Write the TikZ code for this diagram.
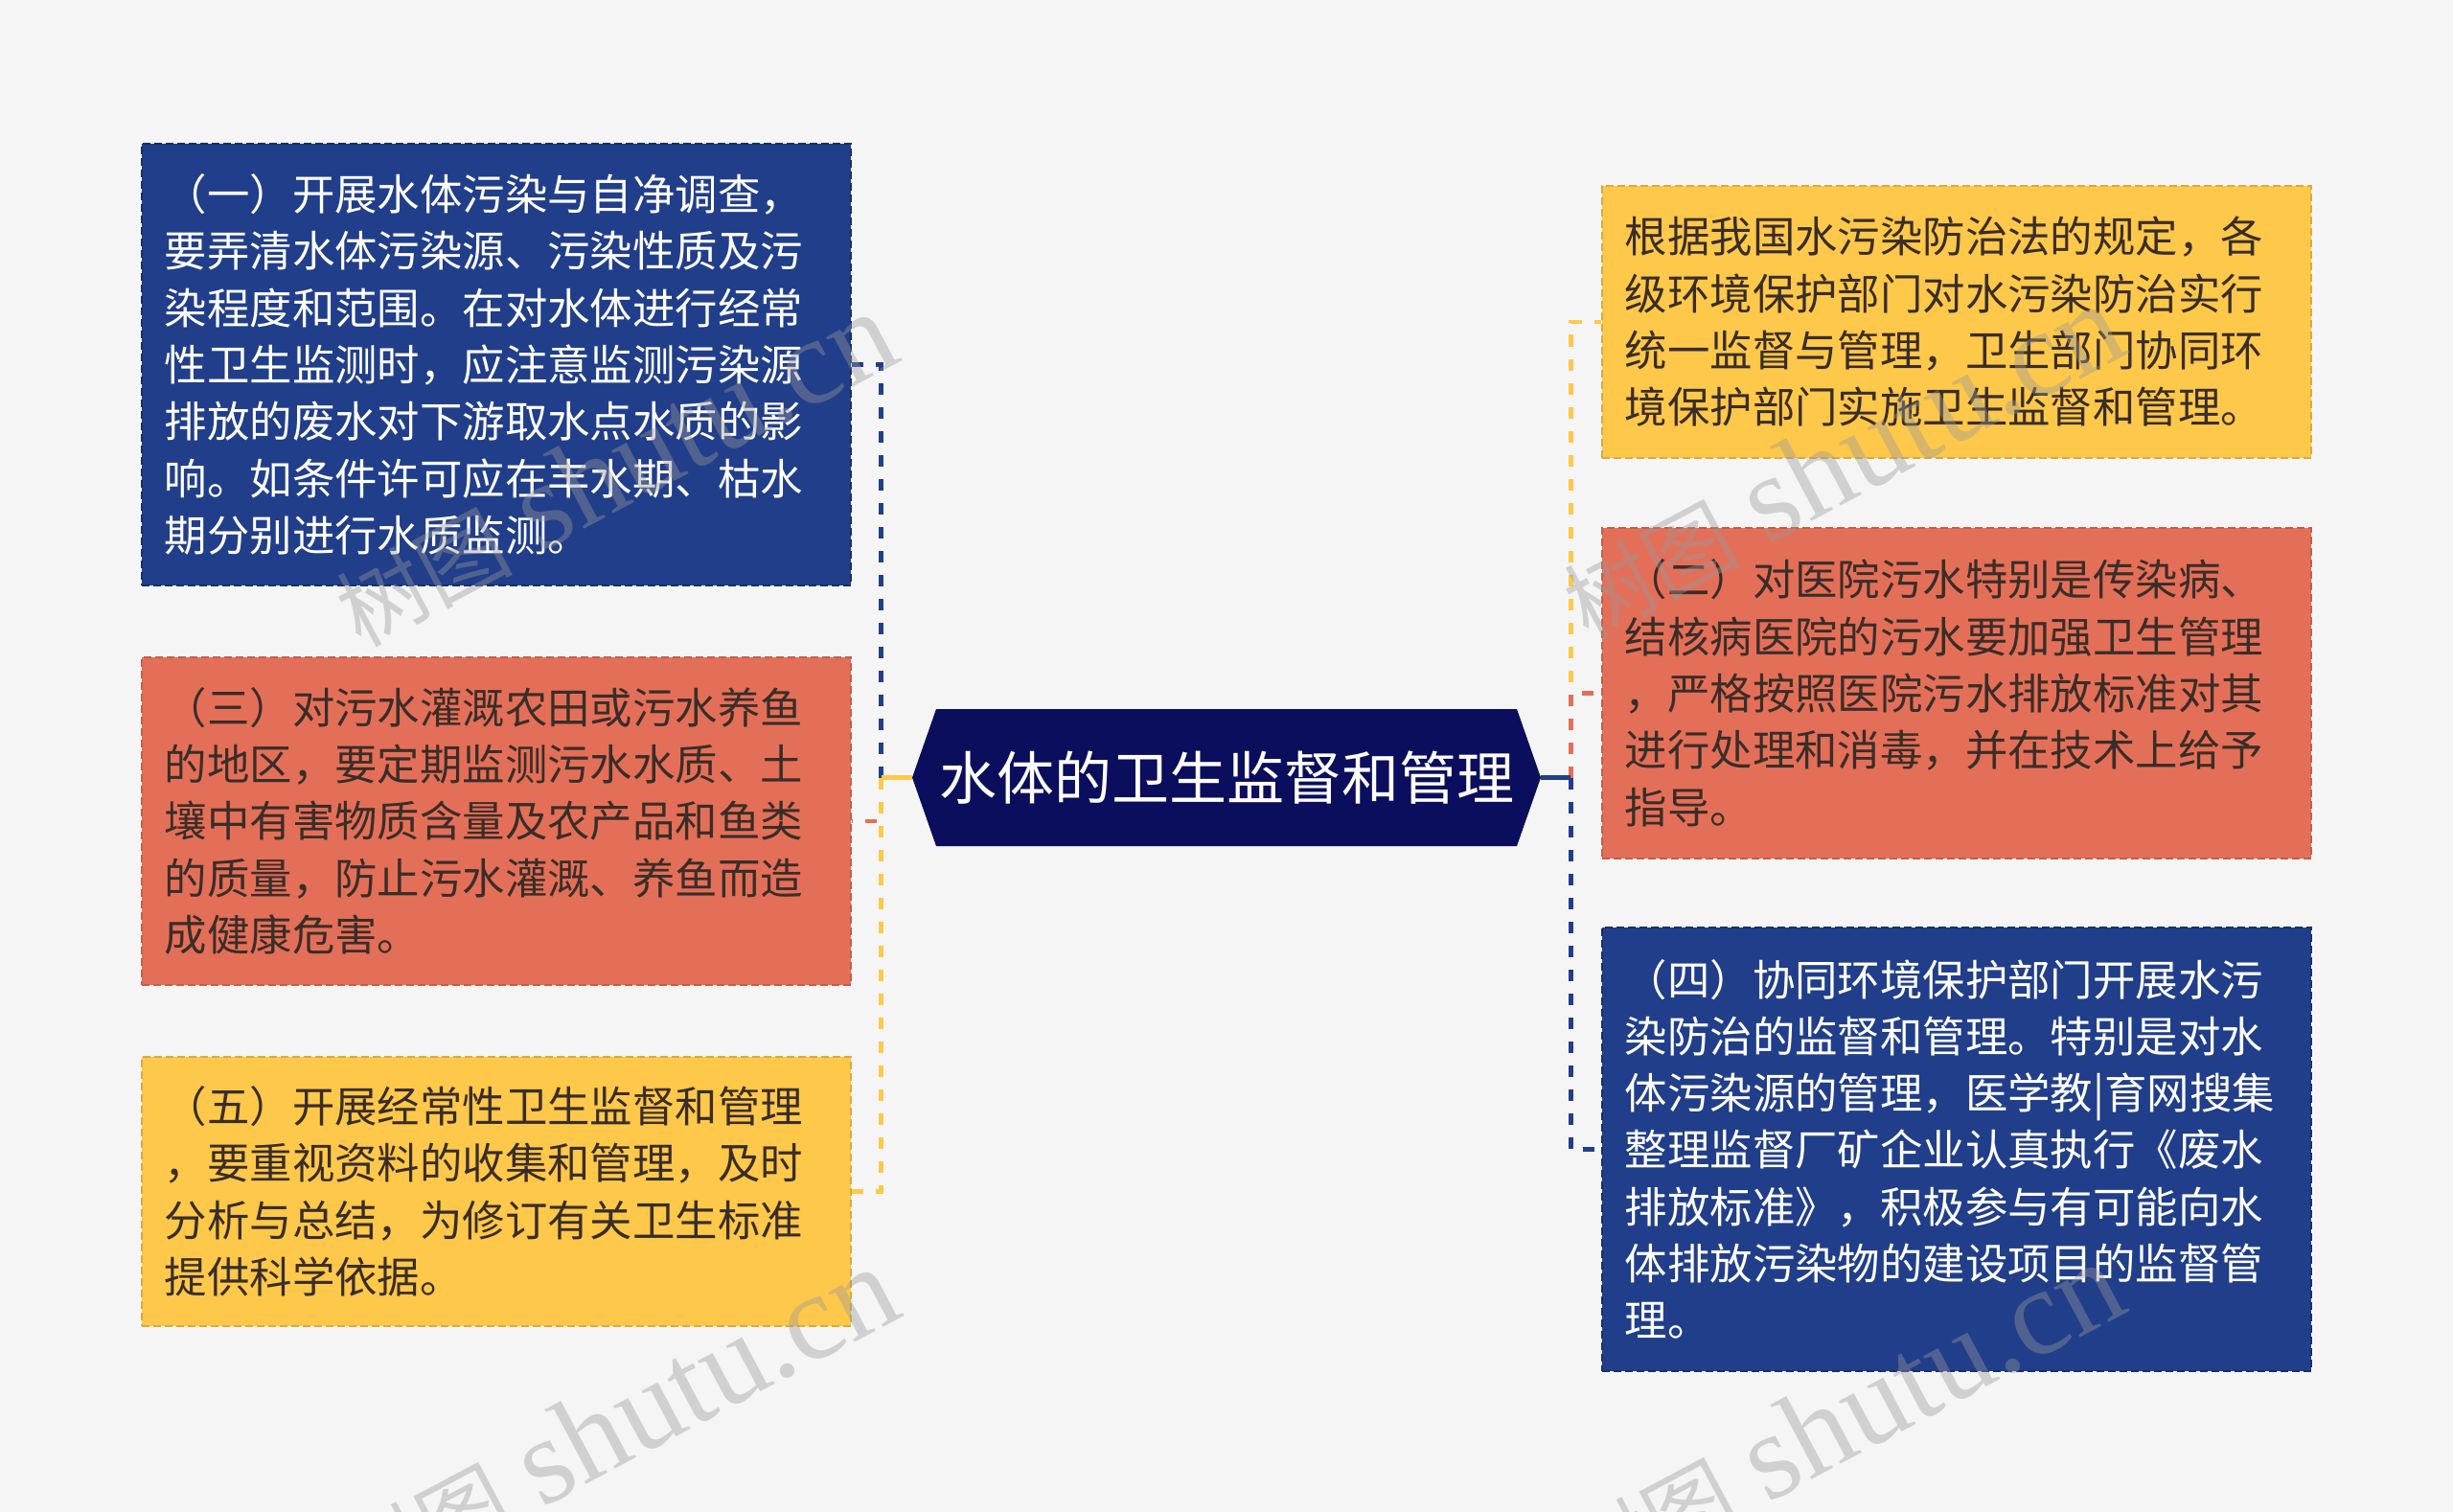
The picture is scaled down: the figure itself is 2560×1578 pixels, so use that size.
\documentclass[tikz,border=0pt]{standalone}
\usepackage{fontspec}
\setmainfont{Noto Sans CJK SC}
\newfontfamily\wmserif{Liberation Serif}
\usetikzlibrary{calc}
\definecolor{bg}{HTML}{F5F5F5}
\definecolor{cblue}{HTML}{213E8A}
\definecolor{cred}{HTML}{E46F58}
\definecolor{cyellow}{HTML}{FEC84A}
\definecolor{cnavy}{HTML}{0B0E5C}
\definecolor{cdark}{HTML}{3A2D28}
\begin{document}
\begin{tikzpicture}[x=0.5pt,y=-0.5pt,
  box/.style={anchor=north west, rectangle, inner xsep=12pt, inner ysep=0pt,
    text width=346pt, minimum width=370pt, align=left,
    font=\fontsize{22.2}{29.65}\selectfont, line width=0.8pt, dash pattern=on 4pt off 2pt},
  bluebox/.style={box, fill=cblue, draw=cblue!75!black, text=white},
  redbox/.style={box, fill=cred, draw=cred!85!black, text=cdark},
  yellowbox/.style={box, fill=cyellow, draw=cyellow!85!black, text=cdark},
  hub/.style={rectangle, minimum width=328pt, minimum height=71.5pt, inner sep=0pt,
    text=white, font=\fontsize{30}{36}\selectfont,
    path picture={\fill[cnavy] (path picture bounding box.west)
      -- ([xshift=12.5pt]path picture bounding box.north west)
      -- ([xshift=-12.5pt]path picture bounding box.north east)
      -- (path picture bounding box.east)
      -- ([xshift=-12.5pt]path picture bounding box.south east)
      -- ([xshift=12.5pt]path picture bounding box.south west) -- cycle;}},
  conn/.style={line width=2.2pt, dash pattern=on 6pt off 6.5pt},
  stub/.style={line width=2.2pt},
  wm/.style={rotate=28, anchor=base east, inner sep=0pt, text=black!40, text opacity=0.4}
]
\fill[bg] (0,0) rectangle (2560,1578);
\useasboundingbox (0,0) rectangle (2560,1578);

\node[hub] (hub) at (1280,811.5) {水体的卫生监督和管理};

\node[bluebox, minimum height=230.5pt] (b1) at (147,149) {（一）开展水体污染与自净调查，\\要弄清水体污染源、污染性质及污\\染程度和范围。在对水体进行经常\\性卫生监测时，应注意监测污染源\\排放的废水对下游取水点水质的影\\响。如条件许可应在丰水期、枯水\\期分别进行水质监测。};
\node[redbox, minimum height=171pt] (b3) at (147,685) {（三）对污水灌溉农田或污水养鱼\\的地区，要定期监测污水水质、土\\壤中有害物质含量及农产品和鱼类\\的质量，防止污水灌溉、养鱼而造\\成健康危害。};
\node[yellowbox, minimum height=140.5pt] (b5) at (147,1102) {（五）开展经常性卫生监督和管理\\，要重视资料的收集和管理，及时\\分析与总结，为修订有关卫生标准\\提供科学依据。};

\node[yellowbox, minimum height=142pt] (r1) at (1671,193) {根据我国水污染防治法的规定，各\\级环境保护部门对水污染防治实行\\统一监督与管理，卫生部门协同环\\境保护部门实施卫生监督和管理。};
\node[redbox, minimum height=172.5pt] (r2) at (1671,550) {（二）对医院污水特别是传染病、\\结核病医院的污水要加强卫生管理\\，严格按照医院污水排放标准对其\\进行处理和消毒，并在技术上给予\\指导。};
\node[bluebox, minimum height=231.5pt] (r3) at (1671,967) {（四）协同环境保护部门开展水污\\染防治的监督和管理。特别是对水\\体污染源的管理，医学教|育网搜集\\整理监督厂矿企业认真执行《废水\\排放标准》，积极参与有可能向水\\体排放污染物的建设项目的监督管\\理。};

\coordinate (tl) at ([xshift=-16pt]hub.west);
\coordinate (tr) at ([xshift=15.5pt]hub.east);

\draw[conn, cblue] (tl) |- (b1.east);
\draw[conn, cred] (tl) |- (b3.east);
\draw[conn, cyellow] (tl) |- (b5.east);
\draw[stub, cyellow] (hub.west) -- (tl);

\draw[conn, cyellow] (tr) |- (r1.west);
\draw[conn, cred] (tr) |- (r2.west);
\draw[conn, cblue] (tr) |- (r3.west);
\draw[stub, cblue] (hub.east) -- (tr);

\node[wm] (wm1) at (944,375) {{\fontsize{46}{46}\selectfont 树图}\hspace{14pt}{\wmserif\fontsize{64}{64}\selectfont shutu.cn}};
\node[wm] (wm2) at (2225,367) {{\fontsize{46}{46}\selectfont 树图}\hspace{14pt}{\wmserif\fontsize{64}{64}\selectfont shutu.cn}};
\node[wm] (wm3) at (946,1372) {{\fontsize{46}{46}\selectfont 树图}\hspace{14pt}{\wmserif\fontsize{64}{64}\selectfont shutu.cn}};
\node[wm] (wm4) at (2225,1367) {{\fontsize{46}{46}\selectfont 树图}\hspace{14pt}{\wmserif\fontsize{64}{64}\selectfont shutu.cn}};
\end{tikzpicture}
\end{document}
